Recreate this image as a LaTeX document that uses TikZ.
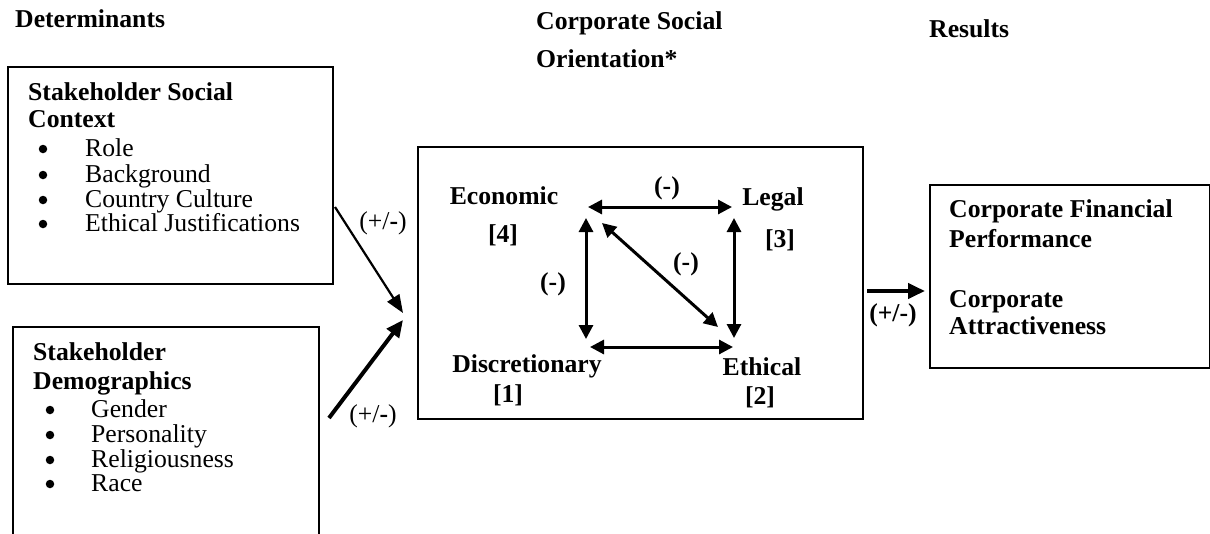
\documentclass[tikz,border=0pt]{standalone}
\usepackage{fontspec}
\setmainfont{Liberation Serif}
\usetikzlibrary{arrows.meta}
\begin{document}
\begin{tikzpicture}[x=1pt,y=-1pt,
  txt/.style={font=\fontsize{25.7}{30}\selectfont, inner sep=0pt, anchor=west, text height=17pt, text depth=5pt},
  btxt/.style={font=\fontsize{25.7}{30}\selectfont\bfseries, inner sep=0pt, anchor=west, text height=17pt, text depth=5pt},
  ctxt/.style={font=\fontsize{25.7}{30}\selectfont\bfseries, inner sep=0pt, text height=17pt, text depth=5pt},
  bul/.style={circle, fill, inner sep=0pt, minimum size=8.5pt},
  frame/.style={draw, line width=1.6pt},
  thinarrow/.style={-{Triangle[length=18pt,width=14pt]}, line width=2.2pt},
  thickarrow/.style={-{Triangle[length=17pt,width=15pt]}, line width=4pt},
  dbl/.style={{Triangle[length=14pt,width=14pt]}-{Triangle[length=14pt,width=14pt]}, line width=3pt},
]
\clip (0,0) rectangle (1210,533);
% headings
\node[btxt] (det) at (15,21) {Determinants};
\node[btxt] (cso1) at (536,23) {Corporate Social};
\node[btxt] (cso2) at (536,61) {Orientation*};
\node[btxt] (res) at (929,31) {Results};

% box 1
\node[frame, anchor=north west, minimum width=325, minimum height=217, inner sep=0pt] (box1) at (7,66) {};
\node[btxt] (h1a) at (28,94) {Stakeholder Social};
\node[btxt] (h1b) at (28,121) {Context};
\node[bul] (b1a) at (43,149) {};
\node[bul] (b1b) at (43,175) {};
\node[bul] (b1c) at (43,200) {};
\node[bul] (b1d) at (43,224) {};
\node[txt] (t1a) at (85,150) {Role};
\node[txt] (t1b) at (85,176) {Background};
\node[txt] (t1c) at (85,201) {Country Culture};
\node[txt] (t1d) at (85,225) {Ethical Justifications};

% box 2 (open at bottom)
\draw[frame] (13,545) -- (13,327) -- (319,327) -- (319,545);
\node[btxt] (h2a) at (33,354) {Stakeholder};
\node[btxt] (h2b) at (33,383) {Demographics};
\node[bul] (b2a) at (50,410) {};
\node[bul] (b2b) at (50,435) {};
\node[bul] (b2c) at (50,460) {};
\node[bul] (b2d) at (50,484) {};
\node[txt] (t2a) at (91,411) {Gender};
\node[txt] (t2b) at (91,436) {Personality};
\node[txt] (t2c) at (91,461) {Religiousness};
\node[txt] (t2d) at (91,485) {Race};

% center box
\node[frame, anchor=north west, minimum width=445, minimum height=272, inner sep=0pt] (cbox) at (417,146) {};
\node[ctxt] (eco) at (504,198) {Economic};
\node[ctxt] (eco4) at (503,236) {[4]};
\node[ctxt] (leg) at (773,199) {Legal};
\node[ctxt] (leg3) at (780,241) {[3]};
\node[ctxt] (dis) at (527,366) {Discretionary};
\node[ctxt] (dis1) at (508,396) {[1]};
\node[ctxt] (eth) at (762,369) {Ethical};
\node[ctxt] (eth2) at (760,398) {[2]};
\node[ctxt] (mtop) at (667,188) {(-)};
\node[ctxt] (mleft) at (553,284) {(-)};
\node[ctxt] (mdiag) at (686,264) {(-)};

\coordinate (ecoTR) at (588,207);
\coordinate (legTL) at (732,207);
\coordinate (ecoB) at (586,218);
\coordinate (disT) at (586,339);
\coordinate (legB) at (734,218);
\coordinate (ethT) at (734,338);
\coordinate (disR) at (590,347);
\coordinate (ethL) at (733,347);
\coordinate (ecoD) at (602,223);
\coordinate (ethD) at (718,327);
\draw[dbl] (ecoTR) -- (legTL);
\draw[dbl] (ecoB) -- (disT);
\draw[dbl] (legB) -- (ethT);
\draw[dbl] (disR) -- (ethL);
\draw[dbl] (ecoD) -- (ethD);

% input arrows
\coordinate (a1s) at (335,207);
\coordinate (a1e) at (403,313);
\coordinate (a2s) at (329,418);
\coordinate (a2e) at (403,320);
\draw[thinarrow] (a1s) -- (a1e);
\draw[thickarrow] (a2s) -- (a2e);
\node[txt, anchor=center] (pm1) at (383,223) {(+/\textbf{-})};
\node[txt, anchor=center] (pm2) at (373,416) {(+/\textbf{-})};

% results box
\node[frame, anchor=north west, minimum width=280, minimum height=183, inner sep=0pt] (rbox) at (929,184) {};
\node[btxt] (r1a) at (949,211) {Corporate Financial};
\node[btxt] (r1b) at (949,241) {Performance};
\node[btxt] (r2a) at (949,301) {Corporate};
\node[btxt] (r2b) at (949,328) {Attractiveness};

\coordinate (a3s) at (867,291);
\coordinate (a3e) at (925,291);
\draw[thickarrow] (a3s) -- (a3e);
\node[ctxt] (pm3) at (893,315) {(+/-)};
\end{tikzpicture}
\end{document}
